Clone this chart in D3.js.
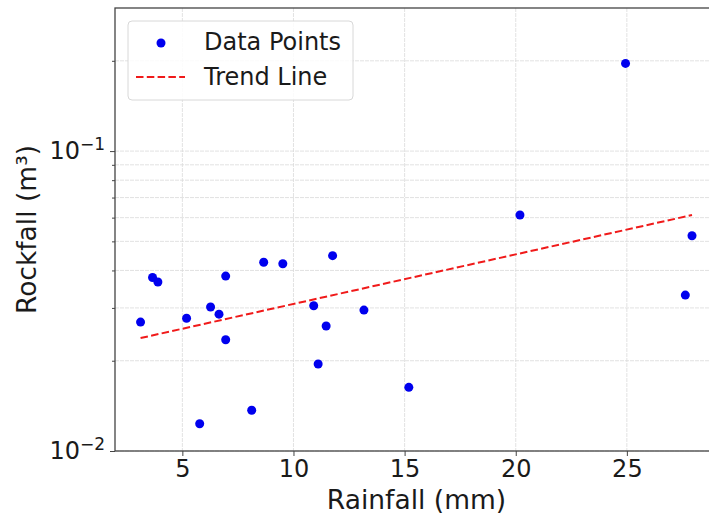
<!DOCTYPE html>
<html>
<head>
<meta charset="utf-8">
<script src="https://cdn.jsdelivr.net/npm/d3@7"></script>
<style>
    body { margin: 0; background: white; }
    text { font-family: "DejaVu Sans", sans-serif; fill: #1a1a1a; }
</style>
</head>
<body>
<svg id="rockfall"></svg>
<script>
// values
var rainfall = [3.12, 3.66, 3.90, 5.19, 5.78, 6.27, 6.65, 6.95, 6.95, 8.12, 8.66,
    9.52, 10.91, 11.11, 11.47, 11.76, 13.17, 15.19, 20.19, 24.94, 27.93, 27.63]
var rockfall = [0.0269, 0.0379, 0.0366, 0.0277, 0.01233, 0.0302, 0.0286, 0.0383, 0.0235, 0.01367, 0.0426,
    0.0421, 0.0305, 0.0195, 0.0261, 0.0448, 0.0295, 0.0163, 0.0612, 0.196, 0.0522, 0.0331]
var trendX = [3.12, 27.93]
var trendY = [0.0238, 0.0612]
var xTicks = [5, 10, 15, 20, 25]
var yTicks = [0.01, 0.1]
var yMinorTicks = [0.02, 0.03, 0.04, 0.05, 0.06, 0.07, 0.08, 0.09, 0.2]
var legendLabels = ["Data Points", "Trend Line"]

var dimensions = {
    width: 709,
    height: 518,
    margin: {
        top: 8,
        bottom: 67,
        left: 115,
        right: -9
    }
}

var svg = d3.select("#rockfall")
    .attr("width", dimensions.width)
    .attr("height", dimensions.height)

var xScale = d3.scaleLinear()
    .domain([1.97, 29.1])
    .range([dimensions.margin.left, dimensions.width - dimensions.margin.right])

var yScale = d3.scaleLog()
    .domain([0.01, 0.3])
    .range([dimensions.height - dimensions.margin.bottom, dimensions.margin.top])

var plotLeft = dimensions.margin.left
var plotRight = dimensions.width - dimensions.margin.right
var plotTop = dimensions.margin.top
var plotBottom = dimensions.height - dimensions.margin.bottom

// grid
var grid = svg.append("g")
    .attr("stroke", "#dadada")
    .attr("stroke-width", 0.8)
    .attr("stroke-dasharray", "4,1")

grid.selectAll(".vgrid")
    .data(xTicks)
    .enter()
    .append("line")
    .attr("x1", d => xScale(d))
    .attr("x2", d => xScale(d))
    .attr("y1", plotTop)
    .attr("y2", plotBottom)

grid.selectAll(".hgrid")
    .data(yTicks.concat(yMinorTicks))
    .enter()
    .append("line")
    .attr("x1", plotLeft)
    .attr("x2", plotRight)
    .attr("y1", d => yScale(d))
    .attr("y2", d => yScale(d))

// trend line
var line = d3.line()
    .x(d => xScale(d[0]))
    .y(d => yScale(d[1]))

svg.append("path")
    .datum(d3.zip(trendX, trendY))
    .attr("d", line)
    .attr("fill", "none")
    .attr("stroke", "#f01a1a")
    .attr("stroke-width", 2)
    .attr("stroke-dasharray", "7.5,3.3")

// points
svg.append("g")
    .selectAll("circle")
    .data(d3.zip(rainfall, rockfall))
    .enter()
    .append("circle")
    .attr("cx", d => xScale(d[0]))
    .attr("cy", d => yScale(d[1]))
    .attr("r", 4.5)
    .attr("fill", "#0000ee")

// axes
var xAxis = d3.axisBottom(xScale)
    .tickValues(xTicks)
    .tickSize(5)
    .tickPadding(4)

var xg = svg.append("g")
    .attr("class", "x-axis")
    .attr("transform", "translate(0," + plotBottom + ")")
    .call(xAxis)
xg.select(".domain").remove()
xg.selectAll("line").attr("stroke", "#444")
xg.selectAll("text")
    .style("font-size", "24px")
    .attr("fill", "#1a1a1a")

var yAxis = d3.axisLeft(yScale)
    .tickValues(yTicks)
    .tickSize(5)
    .tickPadding(5)

var yg = svg.append("g")
    .attr("class", "y-axis")
    .attr("transform", "translate(" + plotLeft + ",0)")
    .call(yAxis)
yg.select(".domain").remove()
yg.selectAll("line").attr("stroke", "#444")
yg.selectAll(".tick text")
    .style("font-size", "24px")
    .attr("fill", "#1a1a1a")
    .each(function (d) {
        var t = d3.select(this)
        var e = Math.round(Math.log10(d))
        t.text("10")
        t.append("tspan")
            .attr("dy", "-0.55em")
            .style("font-size", "17px")
            .text("\u2212" + Math.abs(e))
    })

var yMinor = d3.axisLeft(yScale)
    .tickValues(yMinorTicks)
    .tickSize(3)
    .tickFormat("")

var ymg = svg.append("g")
    .attr("transform", "translate(" + plotLeft + ",0)")
    .call(yMinor)
ymg.select(".domain").remove()
ymg.selectAll("line").attr("stroke", "#444")

// spines
svg.append("rect")
    .attr("x", plotLeft)
    .attr("y", plotTop)
    .attr("width", plotRight - plotLeft)
    .attr("height", plotBottom - plotTop)
    .attr("fill", "none")
    .attr("stroke", "#444")
    .attr("stroke-width", 1.3)

// axis labels
svg.append("text")
    .attr("x", (plotLeft + plotRight) / 2)
    .attr("y", 509)
    .attr("text-anchor", "middle")
    .style("font-size", "26.5px")
    .text("Rainfall (mm)")

svg.append("text")
    .attr("transform", "translate(36," + ((plotTop + plotBottom) / 2) + ") rotate(-90)")
    .attr("text-anchor", "middle")
    .style("font-size", "26.5px")
    .text("Rockfall (m\u00b3)")

// legend
var legend = svg.append("g")

legend.append("rect")
    .attr("x", 128)
    .attr("y", 21)
    .attr("width", 225)
    .attr("height", 79)
    .attr("rx", 4)
    .attr("fill", "white")
    .attr("fill-opacity", 0.85)
    .attr("stroke", "#d8d8d8")

legend.append("circle")
    .attr("cx", 161)
    .attr("cy", 43)
    .attr("r", 4.5)
    .attr("fill", "#0000ee")

legend.append("line")
    .attr("x1", 136)
    .attr("x2", 185)
    .attr("y1", 77)
    .attr("y2", 77)
    .attr("stroke", "#f01a1a")
    .attr("stroke-width", 2)
    .attr("stroke-dasharray", "7.5,3.3")

legend.selectAll(".label")
    .data(legendLabels)
    .enter()
    .append("text")
    .attr("x", 204)
    .attr("y", (d, i) => 50 + i * 35)
    .style("font-size", "24px")
    .text(d => d)
</script>
</body>
</html>
